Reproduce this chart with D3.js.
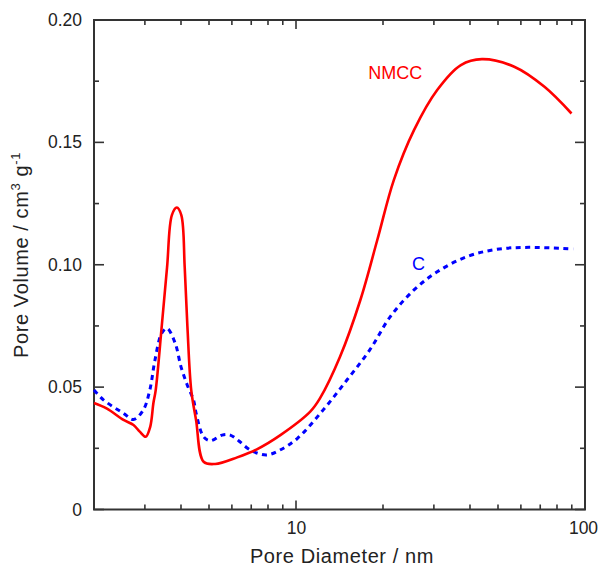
<!DOCTYPE html>
<html>
<head>
<meta charset="utf-8">
<script src="https://cdn.jsdelivr.net/npm/d3@7"></script>
<style>
  html, body { margin: 0; padding: 0; background: #fff; }
  svg { display: block; font-family: "Liberation Sans", Arial, sans-serif; }
</style>
</head>
<body>
<svg id="chart" width="598" height="566"></svg>
<script>
// Pore size distribution: NMCC (solid red) and C (dotted blue)
const nmccDiameter = [2.0, 2.21, 2.53, 2.74, 2.88, 3.02, 3.13, 3.21, 3.27, 3.43, 3.58, 3.72, 3.87, 4.01, 4.12, 4.21, 4.34, 4.51, 4.79, 5.25, 6.26, 7.32, 8.83, 11.2, 12.1, 14.2, 16.7, 19.1, 21.8, 25.6, 30.8, 37.2, 44.0, 56.9, 72.4, 89.8];
const nmccVolume   = [0.0435, 0.0413, 0.0366, 0.0345, 0.0318, 0.0297, 0.0338, 0.0434, 0.0488, 0.0747, 0.099, 0.1203, 0.1234, 0.1203, 0.099, 0.0747, 0.0488, 0.0366, 0.0195, 0.0186, 0.0213, 0.0246, 0.0304, 0.040, 0.0454, 0.0624, 0.0856, 0.110, 0.1346, 0.155, 0.1714, 0.1816, 0.184, 0.1809, 0.1727, 0.1618];

const cDiameter = [2.0, 2.16, 2.53, 2.74, 2.96, 3.12, 3.25, 3.43, 3.58, 3.82, 4.0, 4.2, 4.42, 4.51, 4.79, 5.05, 5.55, 5.92, 6.33, 6.95, 7.9, 8.8, 10.1, 12.4, 15.0, 18.0, 21.2, 25.6, 30.8, 39.0, 49.5, 64.1, 91.0];
const cVolume   = [0.0488, 0.0447, 0.0393, 0.0368, 0.0406, 0.0488, 0.061, 0.072, 0.074, 0.0679, 0.0583, 0.051, 0.0447, 0.0394, 0.0297, 0.0281, 0.0304, 0.0304, 0.0281, 0.0243, 0.0223, 0.0243, 0.029, 0.0406, 0.0529, 0.0652, 0.0788, 0.0897, 0.0971, 0.1033, 0.1063, 0.1071, 0.1064];

const xMajorTicks = [10, 100];
const xMinorTicks = [3, 4, 5, 6, 7, 8, 9, 20, 30, 40, 50, 60, 70, 80, 90];
const yMajorTicks = [0, 0.05, 0.10, 0.15, 0.20];
const yMinorTicks = [0.025, 0.075, 0.125, 0.175];
const yTickLabels = ["0", "0.05", "0.10", "0.15", "0.20"];

const seriesLabels = [
  { text: "NMCC", d: 17.8, v: 0.1757, color: "#ff0000" },
  { text: "C",    d: 25.2, v: 0.0978, color: "#0000ff" }
];

const svg = d3.select("#chart");
const plotLeft = 94, plotRight = 585, plotTop = 20, plotBottom = 509.5;
const axisColor = "#333";
const textColor = "#222";

const x = d3.scaleLog().domain([2, 100]).range([plotLeft, plotRight]);
const y = d3.scaleLinear().domain([0, 0.20]).range([plotBottom, plotTop]);

const majorLen = 9, minorLen = 5;

function styleLabels(g) {
  g.select(".domain").remove();
  g.selectAll(".tick line").remove();
  g.selectAll(".tick text").attr("fill", textColor).style("font-size", "17.5px")
    .style("font-family", "'Liberation Sans', Arial, sans-serif");
}

// tick labels from the axis generators
svg.append("g").attr("transform", `translate(0,${plotBottom})`)
  .call(d3.axisBottom(x).tickValues(xMajorTicks).tickSize(0).tickPadding(12).tickFormat(d3.format("d")))
  .call(styleLabels)
  .call(g => g.selectAll(".tick text").filter(d => d === 100).attr("dx", -2));

svg.append("g").attr("transform", `translate(${plotLeft},0)`)
  .call(d3.axisLeft(y).tickValues(yMajorTicks).tickSize(0).tickPadding(12)
    .tickFormat((d, i) => yTickLabels[i]))
  .call(styleLabels);

// inward tick marks on all four sides
const ticks = svg.append("g").attr("stroke", axisColor).attr("stroke-width", 1.6);
const xTicks = xMajorTicks.map(v => ({ v, len: majorLen })).concat(xMinorTicks.map(v => ({ v, len: minorLen })));
const yTicks = yMajorTicks.map(v => ({ v, len: 10 })).concat(yMinorTicks.map(v => ({ v, len: minorLen })));

ticks.selectAll(".xb").data(xTicks).enter().append("line")
  .attr("x1", d => x(d.v)).attr("x2", d => x(d.v))
  .attr("y1", plotBottom).attr("y2", d => plotBottom - d.len);
ticks.selectAll(".xt").data(xTicks).enter().append("line")
  .attr("x1", d => x(d.v)).attr("x2", d => x(d.v))
  .attr("y1", plotTop).attr("y2", d => plotTop + d.len);
ticks.selectAll(".yl").data(yTicks).enter().append("line")
  .attr("y1", d => y(d.v)).attr("y2", d => y(d.v))
  .attr("x1", plotLeft).attr("x2", d => plotLeft + d.len);
ticks.selectAll(".yr").data(yTicks).enter().append("line")
  .attr("y1", d => y(d.v)).attr("y2", d => y(d.v))
  .attr("x1", plotRight).attr("x2", d => plotRight - d.len);

// frame
svg.append("rect")
  .attr("x", plotLeft).attr("y", plotTop)
  .attr("width", plotRight - plotLeft).attr("height", plotBottom - plotTop)
  .attr("fill", "none").attr("stroke", axisColor).attr("stroke-width", 2);

const line = d3.line().curve(d3.curveCatmullRom.alpha(0.5));

svg.append("path")
  .attr("d", line(cDiameter.map((d, i) => [x(d), y(cVolume[i])])))
  .attr("fill", "none").attr("stroke", "#0000ff").attr("stroke-width", 3)
  .attr("stroke-dasharray", "5,4.5");

svg.append("path")
  .attr("d", line(nmccDiameter.map((d, i) => [x(d), y(nmccVolume[i])])))
  .attr("fill", "none").attr("stroke", "#ff0000").attr("stroke-width", 2.6)
  .attr("stroke-linejoin", "round");

// series labels
svg.selectAll(".series-label").data(seriesLabels).enter().append("text")
  .attr("class", "series-label")
  .attr("x", d => x(d.d)).attr("y", d => y(d.v))
  .attr("fill", d => d.color)
  .style("font-size", "18px")
  .text(d => d.text);

// axis titles
svg.append("text")
  .attr("x", 342).attr("y", 562.5)
  .attr("text-anchor", "middle")
  .attr("fill", textColor)
  .style("font-size", "20px")
  .style("letter-spacing", "0.6px")
  .text("Pore Diameter / nm");

const yTitle = svg.append("text")
  .attr("transform", "translate(28,255) rotate(-90)")
  .attr("text-anchor", "middle")
  .attr("fill", textColor)
  .style("font-size", "20px")
  .style("letter-spacing", "0.6px");
yTitle.append("tspan").text("Pore Volume / cm");
yTitle.append("tspan").attr("dy", -8).style("font-size", "13px").text("3");
yTitle.append("tspan").attr("dy", 8).text(" g");
yTitle.append("tspan").attr("dy", -8).style("font-size", "13px").text("-1");
</script>
</body>
</html>
